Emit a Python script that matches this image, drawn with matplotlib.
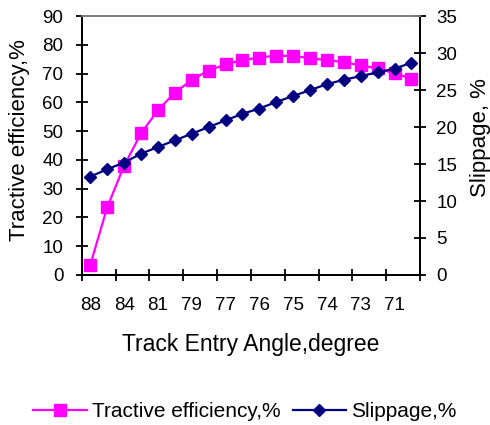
import numpy as np
import matplotlib
matplotlib.use("Agg")
import matplotlib.pyplot as plt

plt.rcParams['font.family'] = ['Liberation Sans', 'DejaVu Sans']

# track entry angle labels (every second measurement is labelled)
angle_labels = ['88', '84', '81', '79', '77', '76', '75', '74', '73', '71']

# tractive efficiency, % (left axis)
efficiency = [3.5, 23.5, 38.0, 49.2, 57.3, 63.4, 67.8, 71.1, 73.2, 74.7,
              75.6, 76.3, 76.1, 75.4, 74.7, 74.0, 72.9, 71.8, 70.1, 68.3]

# slippage, % (right axis)
slippage = [13.3, 14.3, 15.2, 16.4, 17.3, 18.2, 19.1, 20.0, 20.9, 21.8,
            22.5, 23.4, 24.2, 25.0, 25.8, 26.4, 26.9, 27.4, 27.9, 28.7]

n = len(efficiency)
x = np.arange(n)

fig = plt.figure(figsize=(4.9, 4.25), dpi=100)
ax = fig.add_axes([0.167, 0.353, 0.69, 0.609])
ax2 = ax.twinx()

l1, = ax.plot(x, efficiency, color='#FF00FF', lw=1.6, marker='s', ms=8.5,
              label='Tractive efficiency,%')
l2, = ax2.plot(x, slippage, color='#000080', lw=1.6, marker='D', ms=6,
               label='Slippage,%')

ax.set_xlim(-0.5, n - 0.5)
ax.set_ylim(0, 90)
ax.set_yticks(np.arange(0, 91, 10))
ax2.set_ylim(0, 35)
ax2.set_yticks(np.arange(0, 36, 5))

# tick marks between categories, labels under every other point
ax.set_xticks(np.arange(-0.5, n, 2))
ax.set_xticklabels([])
ax.set_xticks(np.arange(0, n, 2), minor=True)
ax.set_xticklabels(angle_labels, minor=True)
ax.tick_params(axis='x', which='minor', length=0, pad=15.5, labelsize=13.5)
ax.tick_params(axis='x', which='major', direction='inout', length=8.5, width=1.3)
ax.tick_params(axis='y', direction='inout', length=8.5, width=1.3, labelsize=13.5, pad=9)
ax2.tick_params(axis='y', direction='inout', length=8.5, width=1.3, labelsize=13.5, pad=7.5)

for a in (ax, ax2):
    for s in ('left', 'right', 'bottom'):
        a.spines[s].set_linewidth(1.3)
        a.spines[s].set_color('black')
    a.spines['top'].set_color('#808080')
    a.spines['top'].set_linewidth(1.3)

ax.set_xlabel('Track Entry Angle,degree', fontsize=16.5)
ax.xaxis.set_label_coords(0.5, (275 - 345) / 259, transform=ax.transAxes)
ax.xaxis.label.set_va('center')
ax.set_ylabel('Tractive efficiency,%', fontsize=16)
ax.yaxis.set_label_coords((20 - 82) / 338, 0.52)
ax.yaxis.label.set_va('center')
ax2.set_ylabel('Slippage, %', fontsize=16)
ax2.yaxis.set_label_coords((481 - 82) / 338, 0.53)
ax2.yaxis.label.set_va('center')

fig.legend(handles=[l1, l2], loc='center', bbox_to_anchor=(0.5, 0.031), ncol=2,
           frameon=False, fontsize=15, handlelength=2.55, handletextpad=0.25,
           columnspacing=0.6)

fig.savefig('out.png', dpi=100)
